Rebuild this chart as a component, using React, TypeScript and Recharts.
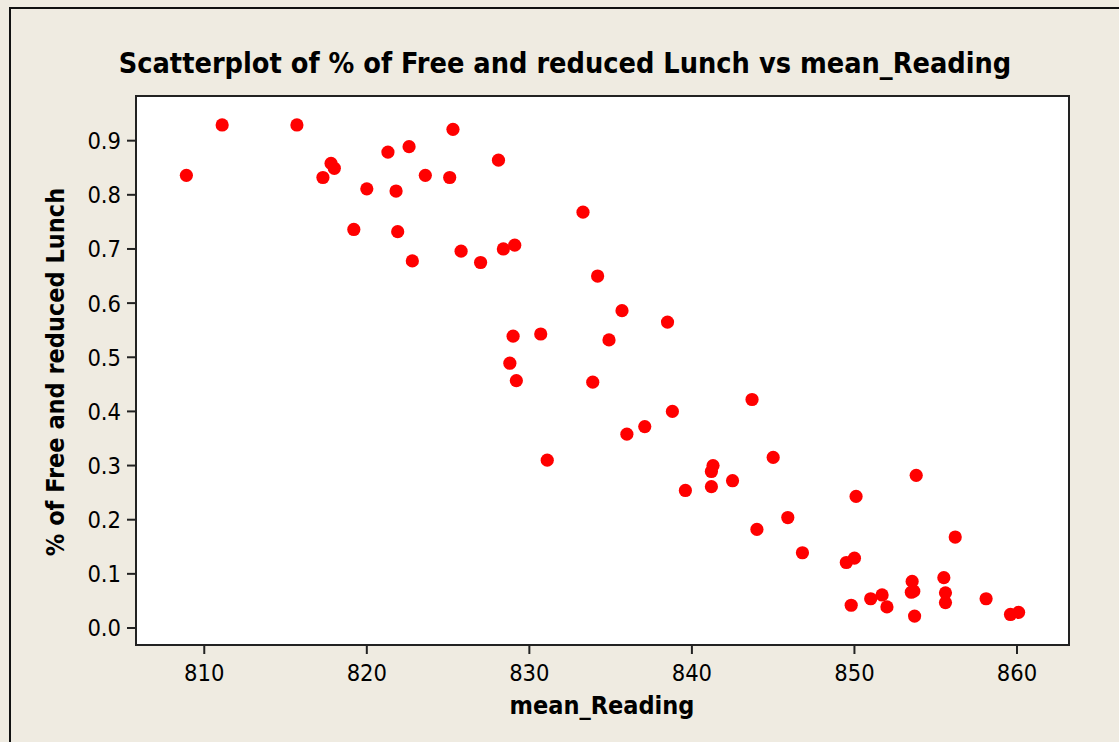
import React from "react";
import { ScatterChart, Scatter, XAxis, YAxis, ReferenceArea } from "recharts";

// mean_Reading (x) and % free/reduced lunch (y)
const readingX = [
  808.9, 811.1, 815.7, 817.3, 817.8, 818.0, 819.2, 820.0, 821.3, 821.8,
  821.9, 822.6, 822.8, 823.6, 825.1, 825.3, 825.8, 827.0, 828.1, 828.4,
  829.1, 829.0, 828.8, 829.2, 830.7, 831.1, 833.3, 834.2, 833.9, 834.9,
  835.7, 836.0, 837.1, 838.5, 838.8, 839.6, 841.2, 841.3, 841.2, 842.5,
  843.7, 844.0, 845.0, 845.9, 846.8, 849.5, 850.0, 849.8, 850.1, 851.0,
  851.7, 852.0, 853.55, 853.65, 853.5, 853.7, 853.8, 855.5, 855.6, 855.6,
  856.2, 858.1, 859.6, 860.1,
];
const lunchY = [
  0.836, 0.929, 0.929, 0.832, 0.858, 0.849, 0.736, 0.811, 0.879, 0.807,
  0.732, 0.889, 0.678, 0.836, 0.832, 0.921, 0.696, 0.675, 0.864, 0.700,
  0.707, 0.539, 0.489, 0.457, 0.543, 0.310, 0.768, 0.650, 0.454, 0.532,
  0.586, 0.358, 0.372, 0.565, 0.400, 0.254, 0.289, 0.300, 0.261, 0.272,
  0.422, 0.182, 0.315, 0.204, 0.139, 0.121, 0.129, 0.042, 0.243, 0.054,
  0.061, 0.039, 0.086, 0.068, 0.066, 0.022, 0.282, 0.093, 0.065, 0.047,
  0.168, 0.054, 0.025, 0.029,
];
const xTicks = [810, 820, 830, 840, 850, 860];
const yTicks = [0, 0.1, 0.2, 0.3, 0.4, 0.5, 0.6, 0.7, 0.8, 0.9];
const xDomain = [805.8, 863.2];
const yDomain = [-0.0314, 0.9825];

const data = readingX.map((x, i) => ({ x, y: lunchY[i] }));

const BG = "#EFEBE1";
const FONT = "'DejaVu Sans Condensed', 'DejaVu Sans', sans-serif";

const Dot = (props: any) => <circle cx={props.cx} cy={props.cy} r={6.6} fill="#FF0000" />;

const XTick = (props: any) => (
  <text x={props.x} y={props.y} dy="0.76em" textAnchor="middle" fill="#000" style={{ fontSize: 23.5, fontFamily: FONT }}>
    {props.payload.value}
  </text>
);
const YTick = (props: any) => (
  <text x={props.x} y={props.y} dy="0.36em" textAnchor="end" fill="#000" style={{ fontSize: 23.5, fontFamily: FONT }}>
    {Number(props.payload.value).toFixed(1)}
  </text>
);

export default function App() {
  return (
    <div style={{ position: "absolute", left: 0, top: 0, width: 1119, height: 742, background: BG, overflow: "hidden" }}>
      <div
        style={{
          position: "absolute",
          left: 9,
          top: 7,
          width: 1120,
          height: 745,
          borderLeft: "2px solid #111",
          borderTop: "2px solid #111",
        }}
      />
      <div
        style={{
          position: "absolute",
          left: 0,
          top: 46,
          width: 1130,
          textAlign: "center",
          fontFamily: FONT,
          fontWeight: "bold",
          fontSize: 28.6,
          lineHeight: "34px",
          color: "#000",
        }}
      >
        Scatterplot of % of Free and reduced Lunch vs mean_Reading
      </div>
      <ScatterChart width={1119} height={742} margin={{ top: 96, right: 50, bottom: 37, left: 76 }} style={{ position: "absolute", left: 0, top: 0 }}>
        <ReferenceArea
          x1={xDomain[0]}
          x2={xDomain[1]}
          y1={yDomain[0]}
          y2={yDomain[1]}
          fill="#FFFFFF"
          fillOpacity={1}
          stroke="#222"
          strokeWidth={2}
        />
        <XAxis
          type="number"
          dataKey="x"
          domain={xDomain}
          ticks={xTicks}
          allowDataOverflow
          height={60}
          tickSize={9}
          tickMargin={9}
          tick={XTick}
          axisLine={{ stroke: "#222", strokeWidth: 2 }}
          tickLine={{ stroke: "#222", strokeWidth: 2 }}
        />
        <YAxis
          type="number"
          dataKey="y"
          domain={yDomain}
          ticks={yTicks}
          allowDataOverflow
          width={60}
          tickSize={9}
          tickMargin={6}
          tick={YTick}
          axisLine={{ stroke: "#222", strokeWidth: 2 }}
          tickLine={{ stroke: "#222", strokeWidth: 2 }}
        />
        <Scatter data={data} shape={Dot} isAnimationActive={false} />
      </ScatterChart>
      <div
        style={{
          position: "absolute",
          left: 452,
          top: 691,
          width: 300,
          textAlign: "center",
          fontFamily: FONT,
          fontWeight: "bold",
          fontSize: 25,
          lineHeight: "30px",
          color: "#000",
        }}
      >
        mean_Reading
      </div>
      <div
        style={{
          position: "absolute",
          left: 56 - 250,
          top: 372 - 15,
          width: 500,
          height: 30,
          lineHeight: "30px",
          textAlign: "center",
          transform: "rotate(-90deg)",
          fontFamily: FONT,
          fontWeight: "bold",
          fontSize: 25,
          color: "#000",
        }}
      >
        % of Free and reduced Lunch
      </div>
    </div>
  );
}
